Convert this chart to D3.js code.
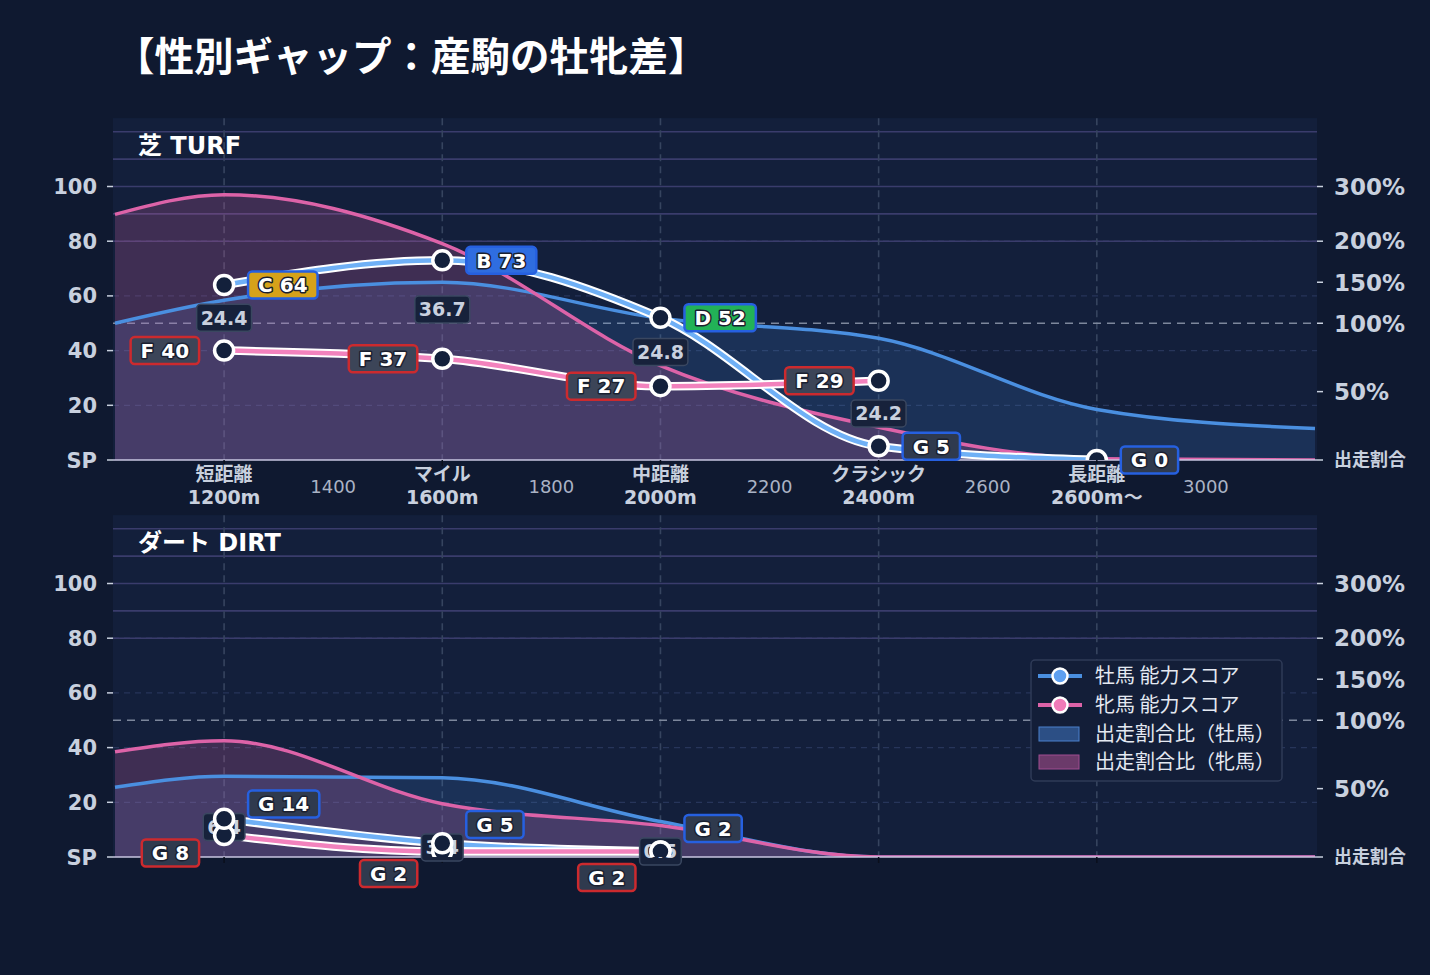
<!DOCTYPE html>
<html><head><meta charset="utf-8">
<script src="https://cdn.jsdelivr.net/npm/d3@7/dist/d3.min.js"></script>
<style>
html,body{margin:0;padding:0;background:#0f1930;}
svg{display:block;}
</style></head><body><svg id="c" width="1430" height="975"></svg>
<script>
const chartTitle = "【性別ギャップ：産駒の牡牝差】";
const categories = ["短距離","マイル","中距離","クラシック","長距離"];
const categorySub = ["1200m","1600m","2000m","2400m","2600m〜"];
const categoryDist = [1200,1600,2000,2400,2800];
const distTicks = [1400,1800,2200,2600,3000];
const leftTicks = [0,20,40,60,80,100];
const leftTickLabels = ["SP","20","40","60","80","100"];
const pctTicks = [0,50,100,150,200,300];
const pctTickLabels = ["出走割合","50%","100%","150%","200%","300%"];
const pctGrid = [200,250,300,350,400];
const pctScaleDomain = [0,50,100,150,200,300,400];
const pctScaleRange = [0,25,50,65,80,100,120];

const shareDist = [1000,1200,1600,2000,2400,2800,3200];
const turfMaleShare = [100,128,150,106,89,37,23];
const turfFemaleShare = [249,285,197,69,24,1,0];
const dirtMaleShare = [51,59,58,26,0,0,0];
const dirtFemaleShare = [77,85,39,23,0,0,0];

const turfMaleScore = [64,73,52,5,0];
const turfMaleGrade = ["C","B","D","G","G"];
const turfFemaleScore = [40,37,27,29];
const turfFemaleGrade = ["F","F","F","F"];
const turfGap = ["24.4","36.7","24.8","24.2"];

const dirtMaleScore = [14,5,2];
const dirtMaleGrade = ["G","G","G"];
const dirtFemaleScore = [8,2,2];
const dirtFemaleGrade = ["G","G","G"];
const dirtGap = ["6.4","3.4","0.5"];

const legendLabels = ["牡馬 能力スコア","牝馬 能力スコア","出走割合比（牡馬）","出走割合比（牝馬）"];

const gradeFill = {A:"#c0392b",B:"#2f6de0",C:"#d6a21a",D:"#22b257",E:"#7a4fd0",F:"#3c4558",G:"#2f3a4e"};
const LAT = "'DejaVu Sans','Noto Sans CJK JP',sans-serif";
const CJK = "'Noto Sans CJK JP','DejaVu Sans',sans-serif";

const svg = d3.select("#c");
const defs = svg.append("defs");
svg.append("rect").attr("width",1430).attr("height",975).attr("fill","#0f1930");

svg.append("text").attr("x",115).attr("y",71).text(chartTitle)
  .attr("fill","#ffffff").attr("font-family",CJK).attr("font-weight","bold").attr("font-size",39.5);

const x = d3.scaleLinear().domain([1000,3200]).range([115,1315]);
const pctToScore = d3.scaleLinear().domain(pctScaleDomain).range(pctScaleRange);
const X0 = 113, X1 = 1317;

const panels = [
 {name:"芝 TURF", base:460, mShare:turfMaleShare, fShare:turfFemaleShare,
  mScore:turfMaleScore, mGrade:turfMaleGrade, fScore:turfFemaleScore, fGrade:turfFemaleGrade, gap:turfGap, xLabels:true, legend:false},
 {name:"ダート DIRT", base:857, mShare:dirtMaleShare, fShare:dirtFemaleShare,
  mScore:dirtMaleScore, mGrade:dirtMaleGrade, fScore:dirtFemaleScore, fGrade:dirtFemaleGrade, gap:dirtGap, xLabels:false, legend:true}
];

function labelBox(g, cx, cy, txt, opts){
  const grp = g.append("g");
  const t = grp.append("text").attr("x",0).attr("y",0).text(txt)
    .attr("font-family",LAT).attr("font-weight","bold").attr("font-size",opts.size)
    .attr("fill",opts.color).attr("dy","0.36em");
  if(opts.outline){ t.attr("stroke","#1a2030").attr("stroke-width",3).attr("paint-order","stroke").attr("stroke-linejoin","round"); }
  const w = t.node().getComputedTextLength();
  const bw = w + opts.pad*2, bh = opts.h;
  let left;
  if(opts.anchor==="start") left = cx;
  else if(opts.anchor==="end") left = cx - bw;
  else left = cx - bw/2;
  t.attr("x", left + opts.pad).attr("y", cy);
  grp.insert("rect","text").attr("x",left).attr("y",cy-bh/2).attr("width",bw).attr("height",bh)
    .attr("rx",4).attr("fill",opts.fill).attr("stroke",opts.stroke).attr("stroke-width",opts.sw);
}

panels.forEach((p,i)=>{
  const y = d3.scaleLinear().domain([0,125]).range([p.base, p.base-125*2.735]);
  const top = y(125);
  const g = svg.append("g");
  g.append("rect").attr("x",X0).attr("y",top).attr("width",X1-X0).attr("height",p.base-top).attr("fill","#131f3b");
  const cid = "clip"+i;
  defs.append("clipPath").attr("id",cid).append("rect").attr("x",X0).attr("y",top).attr("width",X1-X0).attr("height",p.base-top);

  g.selectAll(null).data(leftTicks.filter(v=>v>0)).join("line")
    .attr("x1",X0).attr("x2",X1).attr("y1",d=>y(d)).attr("y2",d=>y(d))
    .attr("stroke","#27355a").attr("stroke-width",1.2).attr("stroke-dasharray","6,5");
  g.selectAll(null).data(pctGrid).join("line")
    .attr("x1",X0).attr("x2",X1).attr("y1",d=>y(pctToScore(d))).attr("y2",d=>y(pctToScore(d)))
    .attr("stroke","#3a3c6c").attr("stroke-width",1.6);
  g.selectAll(null).data(categoryDist).join("line")
    .attr("x1",d=>x(d)).attr("x2",d=>x(d)).attr("y1",top).attr("y2",p.base)
    .attr("stroke","#36445f").attr("stroke-width",1.6).attr("stroke-dasharray","7,5");
  g.append("line").attr("x1",X0).attr("x2",X1).attr("y1",y(pctToScore(100))).attr("y2",y(pctToScore(100)))
    .attr("stroke","#7d879c").attr("stroke-width",1.6).attr("stroke-dasharray","8,6");

  g.append("text").attr("x",138).attr("y",top+36).text(p.name)
    .attr("fill","#ffffff").attr("font-family",LAT).attr("font-weight","bold").attr("font-size",24);

  const cg = g.append("g").attr("clip-path",`url(#${cid})`);
  const mShare = shareDist.map((d,k)=>({d, v:p.mShare[k]}));
  const fShare = shareDist.map((d,k)=>({d, v:p.fShare[k]}));
  const area = d3.area().x(d=>x(d.d)).y0(p.base).y1(d=>y(pctToScore(d.v))).curve(d3.curveMonotoneX);
  const aline = d3.line().x(d=>x(d.d)).y(d=>y(pctToScore(d.v))).curve(d3.curveMonotoneX);
  cg.append("path").attr("d",area(mShare)).attr("fill","rgba(74,144,226,0.17)");
  cg.append("path").attr("d",area(fShare)).attr("fill","rgba(224,102,168,0.22)");
  cg.append("path").attr("d",aline(mShare)).attr("fill","none").attr("stroke","#4a8fe0").attr("stroke-width",3.5);
  cg.append("path").attr("d",aline(fShare)).attr("fill","none").attr("stroke","#dd63a8").attr("stroke-width",3.5);

  g.append("line").attr("x1",X0).attr("x2",X1).attr("y1",p.base).attr("y2",p.base).attr("stroke","#c9c6e0").attr("stroke-width",1.5);
  g.selectAll(null).data(categoryDist).join("line")
    .attr("x1",d=>x(d)).attr("x2",d=>x(d)).attr("y1",p.base).attr("y2",p.base+6).attr("stroke","#0a0f1c").attr("stroke-width",1.5);

  g.selectAll(null).data(leftTicks).join("line")
    .attr("x1",107).attr("x2",X0).attr("y1",d=>y(d)).attr("y2",d=>y(d)).attr("stroke","#c8d0de").attr("stroke-width",1.5);
  g.selectAll(null).data(leftTicks).join("text")
    .attr("x",97).attr("y",d=>y(d)).attr("dy","0.36em").attr("text-anchor","end")
    .text((d,k)=>leftTickLabels[k]).attr("fill","#c8d0de").attr("font-family",LAT).attr("font-weight","bold").attr("font-size",21);
  g.selectAll(null).data(pctTicks).join("line")
    .attr("x1",X1).attr("x2",X1+6).attr("y1",d=>y(pctToScore(d))).attr("y2",d=>y(pctToScore(d))).attr("stroke","#c8d0de").attr("stroke-width",1.5);
  g.selectAll(null).data(pctTicks).join("text")
    .attr("x",1334).attr("y",d=>y(pctToScore(d))).attr("dy","0.36em")
    .text((d,k)=>pctTickLabels[k]).attr("fill","#c8d0de")
    .attr("font-family",d=>d===0?CJK:LAT).attr("font-weight","bold").attr("font-size",d=>d===0?18:23);

  if(p.xLabels){
    g.selectAll(null).data(categoryDist).join("text")
      .attr("x",d=>x(d)).attr("y",p.base+21).attr("text-anchor","middle").text((d,k)=>categories[k])
      .attr("fill","#c8d0de").attr("font-family",CJK).attr("font-weight","bold").attr("font-size",19);
    g.selectAll(null).data(categoryDist).join("text")
      .attr("x",d=>x(d)).attr("y",p.base+44).attr("text-anchor","middle").text((d,k)=>categorySub[k])
      .attr("fill","#c8d0de").attr("font-family",LAT).attr("font-weight","bold").attr("font-size",19);
    g.selectAll(null).data(distTicks).join("text")
      .attr("x",d=>x(d)).attr("y",p.base+33).attr("text-anchor","middle").text(d=>d)
      .attr("fill","#aab3c5").attr("font-family",LAT).attr("font-size",18);
  }

  const mPts = p.mScore.map((v,k)=>({d:categoryDist[k], v, gr:p.mGrade[k]}));
  const fPts = p.fScore.map((v,k)=>({d:categoryDist[k], v, gr:p.fGrade[k]}));
  const sline = d3.line().x(d=>x(d.d)).y(d=>y(d.v)).curve(d3.curveMonotoneX);
  const lg = g.append("g").attr("clip-path",`url(#${cid})`);
  lg.append("path").attr("d",sline(mPts)).attr("fill","none").attr("stroke","#ffffff").attr("stroke-width",8.5);
  lg.append("path").attr("d",sline(mPts)).attr("fill","none").attr("stroke","#6fb0f6").attr("stroke-width",4.5);
  lg.append("path").attr("d",sline(fPts)).attr("fill","none").attr("stroke","#ffffff").attr("stroke-width",8.5);
  lg.append("path").attr("d",sline(fPts)).attr("fill","none").attr("stroke","#f282bd").attr("stroke-width",4.5);

  const gapG = g.append("g");
  p.gap.forEach((txt,k)=>{
    const mid = (y(p.mScore[k]) + y(p.fScore[k]))/2;
    labelBox(gapG, x(categoryDist[k]), mid, txt, {size:19, color:"#c9d1df", pad:4, h:27, fill:"#17223b", stroke:"#3a4760", sw:1.5, anchor:"middle", outline:false});
  });

  const ccg = g.append("g").attr("clip-path",`url(#${cid})`);
  ccg.selectAll(null).data(fPts.concat(mPts)).join("circle")
    .attr("cx",d=>x(d.d)).attr("cy",d=>y(d.v)).attr("r",9.5)
    .attr("fill","#13203b").attr("stroke","#ffffff").attr("stroke-width",3.5);

  const GAP = 23;
  const gl = g.append("g");
  mPts.forEach((pt,k)=>{
    let ly = y(pt.v);
    if(k < fPts.length){
      const fy = y(fPts[k].v), mid = (ly+fy)/2;
      ly = ly <= fy ? Math.min(ly, mid-GAP) : Math.max(ly, mid+GAP);
    }
    labelBox(gl, x(pt.d)+24, ly, `${pt.gr} ${pt.v}`, {size:20, color:"#ffffff", pad:10, h:27, fill:gradeFill[pt.gr], stroke:"#2660e0", sw:2.5, anchor:"start", outline:true});
  });
  fPts.forEach((pt,k)=>{
    let ly = y(pt.v);
    if(k < mPts.length){
      const my = y(mPts[k].v), mid = (ly+my)/2;
      ly = ly < my ? Math.min(ly, mid-GAP) : Math.max(ly, mid+GAP+3);
    }
    labelBox(gl, x(pt.d)-25, ly, `${pt.gr} ${pt.v}`, {size:20, color:"#ffffff", pad:10, h:27, fill:gradeFill[pt.gr], stroke:"#cc2a2e", sw:2.5, anchor:"end", outline:true});
  });

  if(p.legend){
    const L = g.append("g").attr("transform","translate(1031,660)");
    L.append("rect").attr("width",251).attr("height",121).attr("rx",4).attr("fill","#131e38").attr("stroke","#2f3b57").attr("stroke-width",1.5);
    const rows = [16,45,74,102];
    const col = [["#4a8fe0","#5d9ff0"],["#dd63a8","#f07ab8"]];
    [0,1].forEach(k=>{
      L.append("line").attr("x1",7).attr("x2",51).attr("y1",rows[k]).attr("y2",rows[k]).attr("stroke",col[k][0]).attr("stroke-width",4);
      L.append("circle").attr("cx",29).attr("cy",rows[k]).attr("r",7.5).attr("fill",col[k][1]).attr("stroke","#ffffff").attr("stroke-width",2.5);
    });
    L.append("rect").attr("x",8).attr("y",rows[2]-7).attr("width",40).attr("height",14).attr("fill","#2c4f85").attr("stroke","#4a80cc").attr("stroke-width",1);
    L.append("rect").attr("x",8).attr("y",rows[3]-7).attr("width",40).attr("height",14).attr("fill","#6b3a6a").attr("stroke","#a04d90").attr("stroke-width",1);
    L.selectAll(null).data(legendLabels).join("text")
      .attr("x",64).attr("y",(d,k)=>rows[k]).attr("dy","0.36em").text(d=>d)
      .attr("fill","#e4e9f2").attr("font-family",CJK).attr("font-size",20);
  }
});
</script></body></html>
